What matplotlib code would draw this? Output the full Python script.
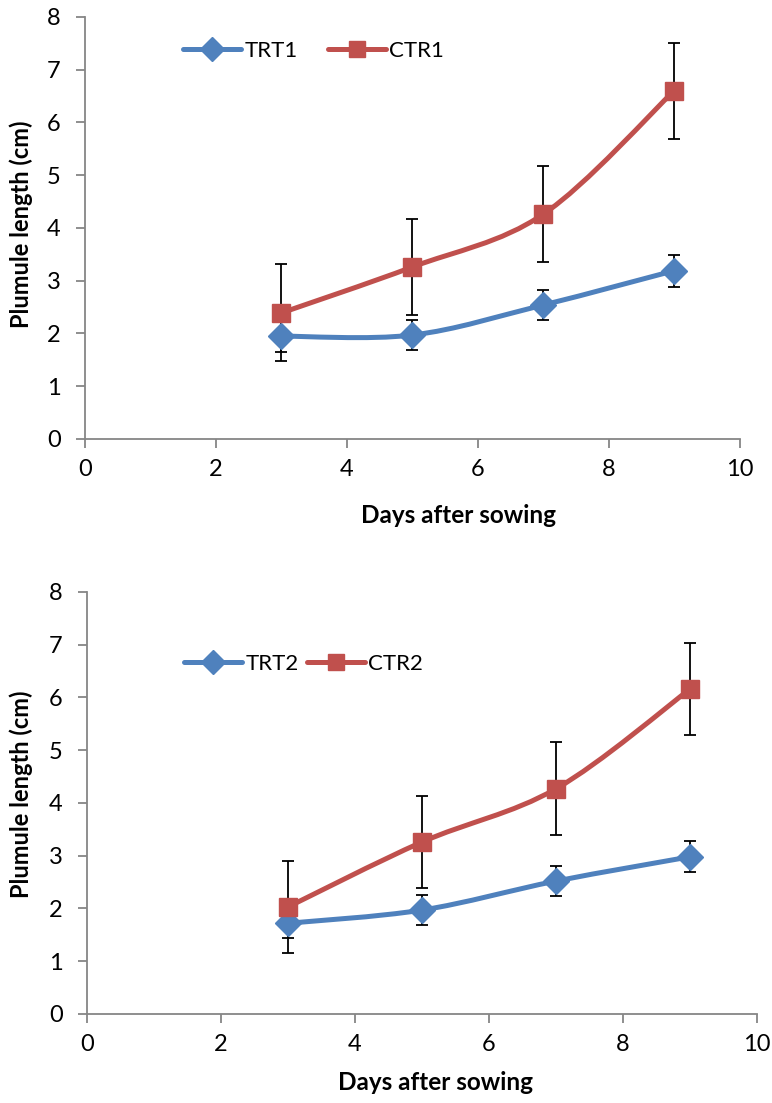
import numpy as np
import matplotlib.pyplot as plt
from matplotlib.path import Path
from matplotlib.patches import PathPatch

plt.rcParams['font.family'] = ['Lato', 'DejaVu Sans']

# plumule length (cm) measured on days after sowing
days = [3, 5, 7, 9]

trt1 = [1.95, 1.97, 2.54, 3.19]
trt1_err = [0.30, 0.29, 0.29, 0.30]
ctr1 = [2.39, 3.26, 4.26, 6.60]
ctr1_err = [0.92, 0.91, 0.91, 0.91]

trt2 = [1.72, 1.97, 2.52, 2.98]
trt2_err = [0.28, 0.28, 0.29, 0.29]
ctr2 = [2.03, 3.26, 4.27, 6.16]
ctr2_err = [0.87, 0.87, 0.88, 0.88]

BLUE = '#4F81BD'
RED = '#C0504D'
GREY = '#868686'


def smooth_path(x, y):
    # cubic bezier through the points, tension like a spreadsheet "smoothed line"
    pts = np.column_stack([x, y]).astype(float)
    n = len(pts)
    verts = [pts[0]]
    codes = [Path.MOVETO]
    for i in range(n - 1):
        p0 = pts[i - 1] if i > 0 else pts[i]
        p1 = pts[i]
        p2 = pts[i + 1]
        p3 = pts[i + 2] if i + 2 < n else pts[i + 1]
        c1 = p1 + (p2 - p0) / 6.0
        c2 = p2 - (p3 - p1) / 6.0
        verts += [c1, c2, p2]
        codes += [Path.CURVE4] * 3
    return Path(verts, codes)


def draw_series(ax, y, err, color, marker, ms, label):
    ax.errorbar(days, y, yerr=err, fmt='none', ecolor='black',
                elinewidth=1.3, capsize=4, capthick=1.3, zorder=2)
    ax.add_patch(PathPatch(smooth_path(days, y), facecolor='none',
                           edgecolor=color, lw=3.6, zorder=3,
                           capstyle='round'))
    ax.plot(days, y, linestyle='none', marker=marker, ms=ms,
            color=color, zorder=4)
    # legend proxy
    ax.plot([], [], color=color, lw=3.6, marker=marker, ms=ms - 1,
            solid_capstyle='round', label=label)


def style_axes(ax):
    ax.set_xlim(0, 10)
    ax.set_ylim(0, 8)
    ax.set_xticks(range(0, 11, 2))
    ax.set_yticks(range(0, 9))
    for side in ['top', 'right']:
        ax.spines[side].set_visible(False)
    for side in ['left', 'bottom']:
        ax.spines[side].set_color(GREY)
        ax.spines[side].set_linewidth(1.3)
    ax.tick_params(direction='out', length=6.5, width=1.3, color=GREY,
                   labelsize=17)
    ax.tick_params(axis='y', pad=11)
    ax.tick_params(axis='x', pad=8)
    ax.set_ylabel('Plumule length (cm)', fontsize=17, fontweight='bold')
    ax.set_xlabel('Days after sowing', fontsize=17.5, fontweight='bold')


fig = plt.figure(figsize=(7.72, 11.03), dpi=100)

ax1 = fig.add_axes([0.110, 0.602, 0.848, 0.3826])
draw_series(ax1, trt1, trt1_err, BLUE, 'D', 13, 'TRT1')
draw_series(ax1, ctr1, ctr1_err, RED, 's', 13, 'CTR1')
style_axes(ax1)
ax1.yaxis.set_label_coords(-0.080, 0.51)
ax1.xaxis.set_label_coords(0.57, -0.154)
ax1.legend(loc='upper left', bbox_to_anchor=(0.12, 0.99), ncol=2,
           frameon=False, fontsize=16, handlelength=2.6, columnspacing=1.35,
           handletextpad=0.15)

ax2 = fig.add_axes([0.1127, 0.0807, 0.868, 0.3826])
draw_series(ax2, trt2, trt2_err, BLUE, 'D', 13, 'TRT2')
draw_series(ax2, ctr2, ctr2_err, RED, 's', 13, 'CTR2')
style_axes(ax2)
ax2.yaxis.set_label_coords(-0.081, 0.52)
ax2.xaxis.set_label_coords(0.52, -0.135)
ax2.legend(loc='upper left', bbox_to_anchor=(0.115, 0.9), ncol=2,
           frameon=False, fontsize=16, handlelength=2.6, columnspacing=0.4,
           handletextpad=0.15)

fig.savefig('out.png', dpi=100)
